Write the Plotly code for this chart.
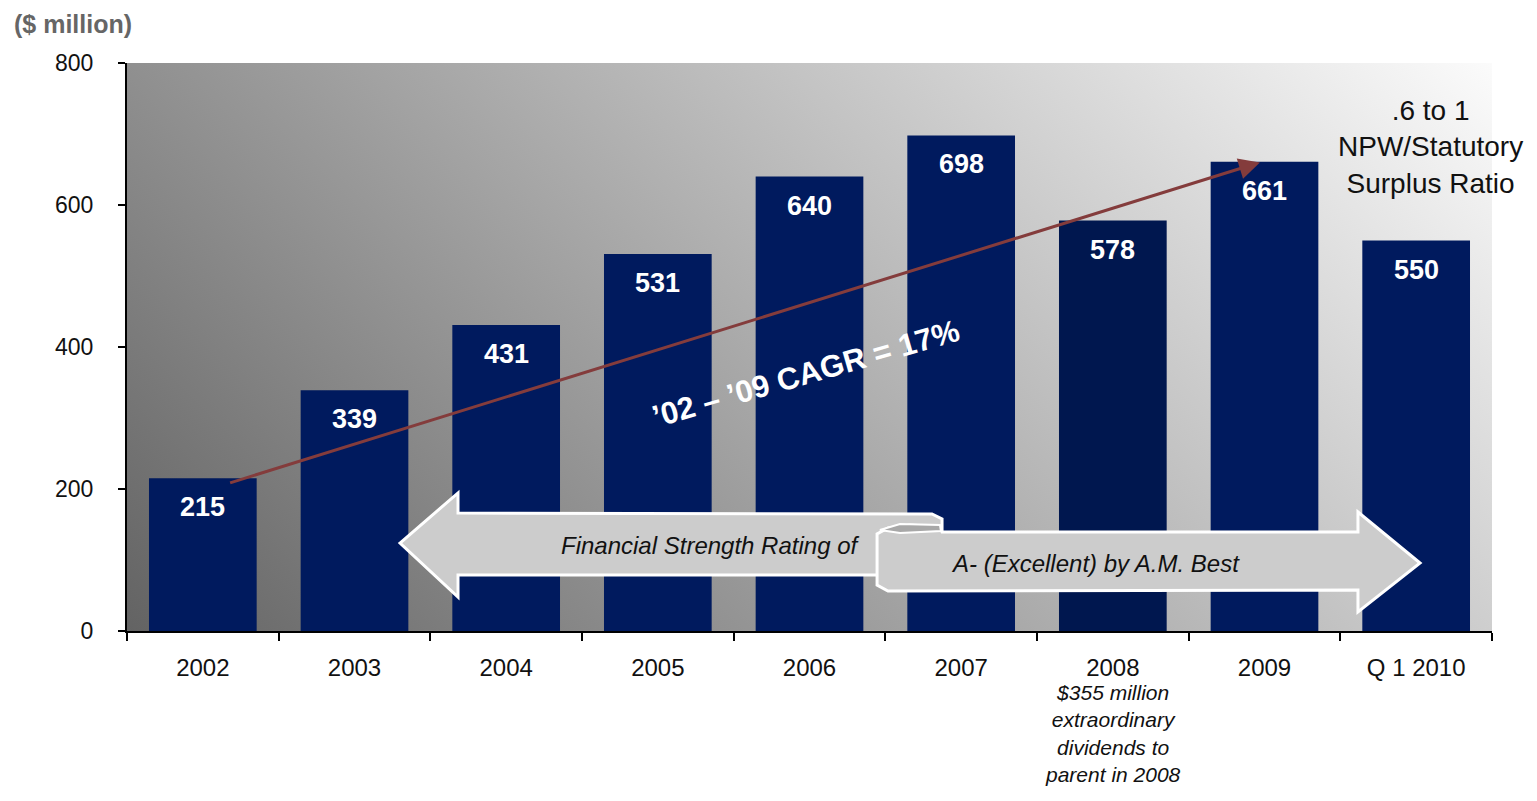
import base64
import plotly.graph_objects as go

years = ['2002', '2003', '2004', '2005', '2006', '2007', '2008', '2009', 'Q 1 2010']
surplus = [215, 339, 431, 531, 640, 698, 578, 661, 550]
bar_colors = ['#001a5e'] * 6 + ['#00174f'] + ['#001a5e'] * 2

# page has an 8px body margin, so the figure is 16px smaller than the window
OFF = 8
W, H = 1521, 785
L, T = 127 - OFF, 63 - OFF
R, B = W - (1492 - OFF), H - (631 - OFF)
PW, PH = W - L - R, H - T - B


def px(x):
    # reference-screen x -> paper
    return (x - OFF - L) / PW


def py(y):
    return (T + PH - (y - OFF)) / PH


def path(points):
    return 'M ' + ' L '.join(f'{px(x):.4f},{py(y):.4f}' for x, y in points) + ' Z'


# diagonal gradient background as an svg image
g = (PW + PH) / 2
svg = (f'<svg xmlns="http://www.w3.org/2000/svg" width="{PW}" height="{PH}" viewBox="0 0 {PW} {PH}" preserveAspectRatio="none">'
       f'<defs><linearGradient id="g" gradientUnits="userSpaceOnUse" x1="0" y1="{PH}" x2="{g}" y2="{PH - g}">'
       '<stop offset="0" stop-color="#636363"/><stop offset="1" stop-color="#fbfbfb"/></linearGradient></defs>'
       f'<rect width="{PW}" height="{PH}" fill="url(#g)"/></svg>')
bg_src = 'data:image/svg+xml;base64,' + base64.b64encode(svg.encode()).decode()

fig = go.Figure()
fig.add_trace(go.Bar(x=years, y=surplus, marker=dict(color=bar_colors, line=dict(width=0)),
                     hoverinfo='x+y'))

# value labels near the top of each bar
for i, v in enumerate(surplus):
    fig.add_annotation(x=i, y=v, text=f'<b>{v}</b>', showarrow=False, yshift=-29,
                       xanchor='center', yanchor='middle', font=dict(size=27, color='white'))

# CAGR trend arrow
fig.add_annotation(x=6.97, y=660, ax=0.17, ay=208, axref='x', ayref='y', xref='x', yref='y',
                   text='', showarrow=True, arrowhead=2, arrowsize=1.4, arrowwidth=3,
                   arrowcolor='#843c3c')
fig.add_annotation(x=3.98, y=362, text='<b>’02 – ’09 CAGR = 17%</b>', showarrow=False,
                   xanchor='center', yanchor='middle', textangle=-16, font=dict(size=31, color='white'))

# rating banner
banner = dict(type='path', xref='paper', yref='paper', fillcolor='#cccccc',
              line=dict(color='white', width=3), layer='above')
fig.add_shape(path=path([(400, 543), (458, 493), (458, 513), (932, 514), (942, 519),
                         (942, 575), (458, 575), (458, 597)]), **banner)
fig.add_shape(path=path([(888, 528), (877, 534), (877, 585), (888, 591), (1358, 590), (1358, 612),
                         (1420, 563), (1358, 512), (1358, 532), (942, 532), (940, 527), (910, 525)]),
              **banner)
fig.add_shape(type='path', xref='paper', yref='paper', fillcolor='#a8a8a8', line=dict(color='white', width=2),
              path=path([(880, 530), (900, 524), (940, 525), (941, 531), (900, 533)]), layer='above')

mid = dict(xref='paper', yref='paper', showarrow=False, xanchor='center', yanchor='middle')
fig.add_annotation(x=px(710), y=py(545), text='<i>Financial Strength Rating of</i>',
                   font=dict(size=24, color='#111111'), **mid)
fig.add_annotation(x=px(1095), y=py(563), text='<i>A- (Excellent) by A.M. Best</i>',
                   font=dict(size=24, color='#111111'), **mid)
fig.add_annotation(x=px(1430), y=py(147), text='.6 to 1<br>NPW/Statutory<br>Surplus Ratio',
                   font=dict(size=28, color='#111111'), **mid)

# 2008 dividend note under the axis
fig.add_annotation(x=6, y=py(679), xref='x', yref='paper', yanchor='top', xanchor='center',
                   showarrow=False,
                   text='<i>$355 million<br>extraordinary<br>dividends to<br>parent in 2008</i>',
                   font=dict(size=21, color='#111111'))
fig.add_annotation(x=px(12), y=py(24), xref='paper', yref='paper', xanchor='left', yanchor='middle',
                   showarrow=False, text='<b>($ million)</b>', font=dict(size=25, color='#666666'))

fig.add_layout_image(source=bg_src, xref='paper', yref='paper', x=0, y=1, sizex=1, sizey=1,
                     xanchor='left', yanchor='top', sizing='stretch', layer='below')

fig.update_layout(
    width=W, height=H, margin=dict(l=L, r=R, t=T, b=B),
    paper_bgcolor='white', plot_bgcolor='rgba(0,0,0,0)',
    font=dict(family='Liberation Sans, Arial, sans-serif', size=24, color='#111111'),
    bargap=0.29, showlegend=False,
    xaxis=dict(type='category', range=[-0.5, 8.5], showgrid=False, showline=True, linecolor='black',
               linewidth=2, ticks='outside', tickson='boundaries', ticklen=8, tickwidth=2,
               tickcolor='black', tickfont=dict(size=24), ticklabelstandoff=14),
    yaxis=dict(range=[0, 800], dtick=200, showgrid=False, zeroline=False, showline=True,
               linecolor='black', linewidth=2, ticks='outside', ticklen=7, tickwidth=2,
               tickcolor='black', tickfont=dict(size=23), ticklabelstandoff=20),
)

fig.write_html('out.html')
